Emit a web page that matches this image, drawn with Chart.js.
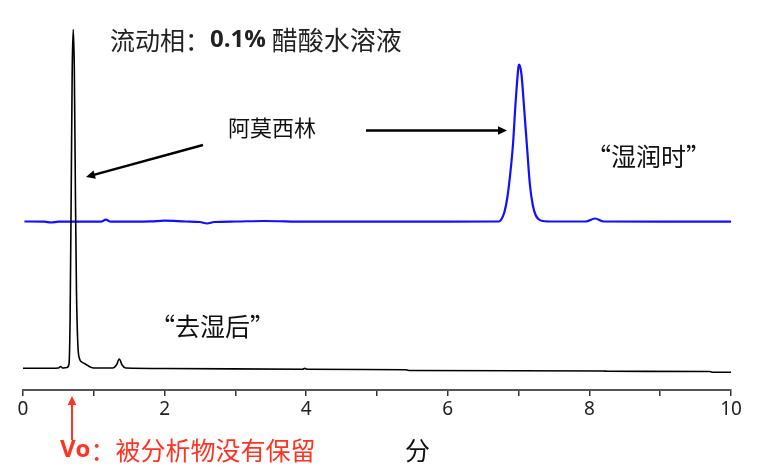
<!DOCTYPE html>
<html>
<head>
<meta charset="utf-8">
<script src="https://cdn.jsdelivr.net/npm/chart.js@4"></script>
<style>
  html, body { margin: 0; padding: 0; background: #fff; }
  #wrap { width: 766px; height: 475px; }
</style>
</head>
<body>
<div id="wrap"><canvas id="chart" width="766" height="475"></canvas></div>
<script>
// retention time (min) and detector signal
const blackTime = [0.00, 0.40, 0.50, 0.53, 0.56, 0.62, 0.65, 0.665, 0.68, 0.695, 0.71, 0.725, 0.74, 0.755, 0.775, 0.80, 0.83, 0.88, 0.95, 1.00, 1.27, 1.32, 1.36, 1.40, 1.45, 2.00, 3.95, 3.98, 4.01, 5.40, 5.45, 7.00, 8.20, 8.25, 9.70, 9.75, 10.00]
const blackSignal = [21.7, 21.7, 22.0, 23.5, 22.0, 22.5, 26, 70, 190, 320, 360.5, 320, 200, 100, 45, 31, 28, 26, 23, 22, 22, 25, 31, 25, 22, 21.5, 20.8, 21.6, 20.8, 20.3, 19.5, 19.3, 19.0, 18.7, 18.5, 17.7, 17.7]

const blueTime = [0.02, 0.30, 0.40, 0.50, 1.10, 1.17, 1.24, 1.80, 2.00, 2.30, 2.50, 2.60, 2.70, 3.00, 3.40, 4.00, 5.00, 6.00, 6.72, 6.76, 6.80, 6.84, 6.88, 6.92, 6.96, 7.00, 7.01, 7.04, 7.08, 7.12, 7.16, 7.20, 7.24, 7.28, 7.34, 7.50, 7.95, 8.08, 8.20, 9.00, 10.00]
const blueSignal = [168.5, 168.3, 167.5, 168.3, 168.3, 170.3, 168.3, 168.6, 169.3, 168.5, 168.0, 166.5, 168.0, 168.5, 169.0, 168.3, 168.4, 168.3, 168.5, 171, 178, 192, 215, 245, 290, 324, 325.5, 316, 280, 242, 205, 185, 175, 171, 169, 168.5, 168.5, 171.5, 168.5, 168.3, 168.3]

const xTicks = [0, 2, 4, 6, 8, 10]

function toPoints(xs, ys) {
  return xs.map((x, i) => ({x: x, y: ys[i]}))
}

const cjk = '"Noto Sans CJK SC", "Noto Sans", sans-serif'

function arrow(ctx, x1, y1, x2, y2, color, width, head) {
  const ang = Math.atan2(y2 - y1, x2 - x1)
  ctx.save()
  ctx.strokeStyle = color
  ctx.fillStyle = color
  ctx.lineWidth = width
  ctx.beginPath()
  ctx.moveTo(x1, y1)
  ctx.lineTo(x2 - Math.cos(ang) * head * 0.8, y2 - Math.sin(ang) * head * 0.8)
  ctx.stroke()
  ctx.beginPath()
  ctx.moveTo(x2, y2)
  ctx.lineTo(x2 - head * Math.cos(ang - 0.45), y2 - head * Math.sin(ang - 0.45))
  ctx.lineTo(x2 - head * Math.cos(ang + 0.45), y2 - head * Math.sin(ang + 0.45))
  ctx.closePath()
  ctx.fill()
  ctx.restore()
}

// text runs drawn one after the other on a line
function runs(ctx, x, y, parts) {
  ctx.textBaseline = 'middle'
  ctx.textAlign = 'left'
  parts.forEach(p => {
    ctx.font = p.font
    ctx.fillStyle = p.color
    ctx.fillText(p.text, x, y)
    x += ctx.measureText(p.text).width
  })
}

const notes = {
  id: 'notes',
  afterDraw(chart) {
    const ctx = chart.ctx
    ctx.save()
    runs(ctx, 110, 40, [
      {text: '流动相：', font: '25px ' + cjk, color: '#222'},
      {text: '0.1%', font: 'bold 24px "Open Sans", sans-serif', color: '#222'},
      {text: ' 醋酸水溶液', font: '26px ' + cjk, color: '#222'}
    ])
    runs(ctx, 228, 128, [{text: '阿莫西林', font: '22px ' + cjk, color: '#111'}])
    runs(ctx, 586, 156, [{text: '“湿润时”', font: '25px ' + cjk, color: '#111'}])
    runs(ctx, 150, 326, [{text: '“去湿后”', font: '25px ' + cjk, color: '#111'}])
    runs(ctx, 60, 450, [
      {text: 'Vo', font: 'bold 24px "Open Sans", sans-serif', color: '#ff3322'},
      {text: '：被分析物没有保留', font: '25px ' + cjk, color: '#ff3322'}
    ])
    runs(ctx, 405, 450, [{text: '分', font: '25px ' + cjk, color: '#111'}])

    arrow(ctx, 366, 130.5, 507, 130.5, '#000', 2.5, 10)
    arrow(ctx, 203, 145, 86, 177, '#000', 2.5, 10)
    arrow(ctx, 72, 440, 72, 396, '#ff3322', 2, 10)
    ctx.restore()
  }
}

new Chart(document.getElementById('chart'), {
  type: 'line',
  data: {
    datasets: [
      {
        label: '去湿后',
        data: toPoints(blackTime, blackSignal),
        borderColor: '#000',
        borderWidth: 1.6,
        pointRadius: 0,
        cubicInterpolationMode: 'monotone',
        clip: false
      },
      {
        label: '湿润时',
        data: toPoints(blueTime, blueSignal),
        borderColor: '#1010ff',
        borderWidth: 2.2,
        pointRadius: 0,
        cubicInterpolationMode: 'monotone',
        clip: false
      }
    ]
  },
  options: {
    responsive: false,
    animation: false,
    events: [],
    layout: { padding: { left: 23, right: 35, top: 20, bottom: 0 } },
    plugins: { legend: { display: false }, tooltip: { enabled: false } },
    scales: {
      x: {
        type: 'linear',
        min: 0,
        max: 10,
        afterFit(scale) { scale.height = 85 },
        border: { display: true, color: '#555', width: 2 },
        grid: { drawOnChartArea: false, drawTicks: true, tickLength: 6, color: '#333', lineWidth: 1.5 },
        ticks: {
          stepSize: 1,
          padding: 2,
          maxRotation: 0,
          autoSkip: false,
          color: '#222',
          font: { family: '"Noto Sans", sans-serif', size: 19 },
          callback: v => xTicks.includes(v) ? String(v) : ''
        }
      },
      y: {
        display: false,
        min: 0,
        max: 370
      }
    }
  },
  plugins: [notes]
})
</script>
</body>
</html>
